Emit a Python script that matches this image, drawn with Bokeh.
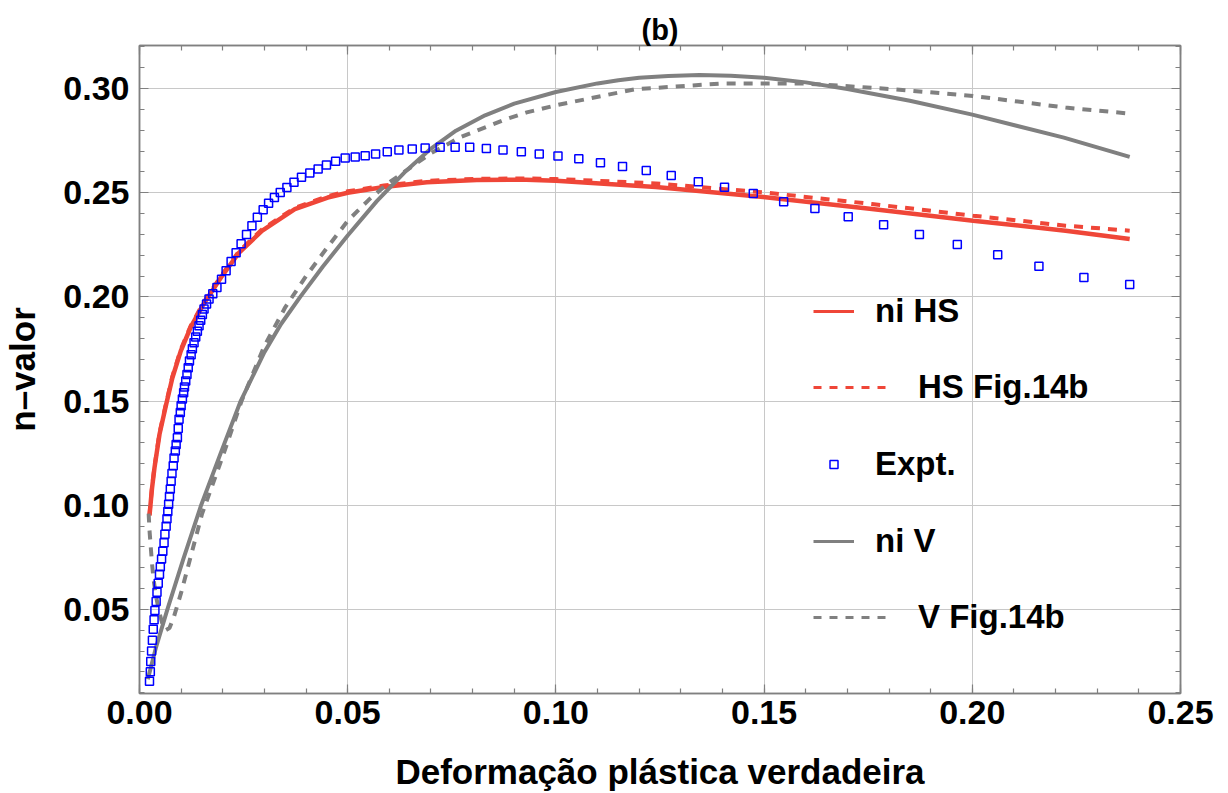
from bokeh.plotting import figure
from bokeh.models import (Range1d, LinearAxis, SingleIntervalTicker, PrintfTickFormatter,
                          CustomJSTickFormatter, Legend, LegendItem, Grid)
from bokeh.embed import file_html
from bokeh.resources import INLINE

NAN = float("nan")

# ---------------- data ----------------
expt_eps = [0.0024, 0.0026, 0.0027, 0.0029, 0.0031, 0.0033, 0.0035, 0.0037, 0.0040, 0.0042,
            0.0045, 0.0048, 0.0050, 0.0053, 0.0056, 0.0059, 0.0061, 0.0064, 0.0066, 0.0068,
            0.0070, 0.0072, 0.0074, 0.0076, 0.0078, 0.0081, 0.0083, 0.0086, 0.0088, 0.0091,
            0.0093, 0.0095, 0.0098, 0.0100, 0.0103, 0.0106, 0.0108, 0.0111, 0.0114, 0.0117,
            0.0120, 0.0124, 0.0127, 0.0131, 0.0135, 0.0139, 0.0143, 0.0147, 0.0151, 0.0155,
            0.0161, 0.0167, 0.0176, 0.0186, 0.0197, 0.0208, 0.0220, 0.0232, 0.0244, 0.0257,
            0.0270, 0.0283, 0.0297, 0.0310, 0.0324, 0.0338, 0.0354, 0.0371, 0.0389, 0.0409,
            0.0429, 0.0449, 0.0471, 0.0494, 0.0518, 0.0542, 0.0567, 0.0595, 0.0623, 0.0655,
            0.0686, 0.0722, 0.0758, 0.0793, 0.0833, 0.0873, 0.0917, 0.0960, 0.1005, 0.1055,
            0.1107, 0.1160, 0.1217, 0.1277, 0.1342, 0.1405, 0.1474, 0.1547, 0.1622, 0.1702,
            0.1787, 0.1873, 0.1964, 0.2061, 0.2160, 0.2268, 0.2378]
expt_n = [0.0155, 0.0200, 0.0250, 0.0300, 0.0352, 0.0404, 0.0450, 0.0495, 0.0538, 0.0582,
          0.0625, 0.0668, 0.0705, 0.0742, 0.0779, 0.0820, 0.0860, 0.0899, 0.0935, 0.0970,
          0.1005, 0.1042, 0.1078, 0.1115, 0.1152, 0.1190, 0.1227, 0.1260, 0.1292, 0.1324,
          0.1368, 0.1413, 0.1445, 0.1478, 0.1510, 0.1540, 0.1568, 0.1596, 0.1628, 0.1660,
          0.1692, 0.1722, 0.1751, 0.1780, 0.1808, 0.1835, 0.1861, 0.1888, 0.1915, 0.1942,
          0.1966, 0.1990, 0.2015, 0.2045, 0.2085, 0.2125, 0.2170, 0.2212, 0.2255, 0.2300,
          0.2342, 0.2382, 0.2418, 0.2450, 0.2477, 0.2501, 0.2525, 0.2550, 0.2574, 0.2595,
          0.2614, 0.2633, 0.2651, 0.2667, 0.2672, 0.2678, 0.2686, 0.2697, 0.2705, 0.2710,
          0.2715, 0.2718, 0.2719, 0.2718, 0.2712, 0.2705, 0.2697, 0.2686, 0.2677, 0.2663,
          0.2644, 0.2626, 0.2607, 0.2583, 0.2553, 0.2527, 0.2497, 0.2457, 0.2424, 0.2385,
          0.2346, 0.2300, 0.2252, 0.2202, 0.2147, 0.2093, 0.2060]

hs_eps = [0.0024, 0.0030, 0.0036, 0.0048, 0.0064, 0.0079, 0.0099, 0.0123, 0.0155, 0.0198,
          0.0238, 0.0294, 0.0373, 0.0452, 0.0500, 0.0587, 0.0690, 0.0810, 0.0929, 0.1000,
          0.1240, 0.1498, 0.1759, 0.2002, 0.2224, 0.2378]
hs_n = [0.0950, 0.1080, 0.1180, 0.1340, 0.1484, 0.1612, 0.1740, 0.1855, 0.1970, 0.2100,
        0.2210, 0.2317, 0.2421, 0.2477, 0.2500, 0.2528, 0.2550, 0.2561, 0.2563, 0.2558,
        0.2528, 0.2480, 0.2422, 0.2366, 0.2318, 0.2278]

hs14_eps = hs_eps
hs14_n = [0.0955, 0.1086, 0.1186, 0.1347, 0.1491, 0.1619, 0.1747, 0.1862, 0.1977, 0.2107,
          0.2217, 0.2324, 0.2428, 0.2484, 0.2507, 0.2535, 0.2557, 0.2567, 0.2569, 0.2566,
          0.2545, 0.2502, 0.2446, 0.2390, 0.2342, 0.2318]

v_eps = [0.0020, 0.0040, 0.0067, 0.0105, 0.0148, 0.0195, 0.0243, 0.0300, 0.0340, 0.0386,
         0.0440, 0.0500, 0.0570, 0.0640, 0.0700, 0.0760, 0.0830, 0.0900, 0.1000, 0.1100,
         0.1150, 0.1200, 0.1270, 0.1345, 0.1420, 0.1500, 0.1600, 0.1700, 0.1850, 0.2000,
         0.2220, 0.2378]
v_n = [0.0165, 0.0320, 0.0500, 0.0740, 0.1000, 0.1250, 0.1500, 0.1735, 0.1870, 0.2000,
       0.2145, 0.2295, 0.2460, 0.2605, 0.2712, 0.2798, 0.2872, 0.2928, 0.2984, 0.3025,
       0.3040, 0.3052, 0.3061, 0.3065, 0.3062, 0.3052, 0.3030, 0.2998, 0.2942, 0.2875,
       0.2765, 0.2672]

v14_eps = [0.0022, 0.0024, 0.0027, 0.0030, 0.0034, 0.0040, 0.0047, 0.0055, 0.0063, 0.0072,
           0.0082, 0.0100, 0.0150, 0.0200, 0.0245, 0.0300, 0.0350, 0.0400, 0.0450, 0.0500,
           0.0550, 0.0600, 0.0650, 0.0700, 0.0770, 0.0880, 0.0930, 0.1000, 0.1190, 0.1396,
           0.1604, 0.1810, 0.2002, 0.2224, 0.2378]
v14_n = [0.0960, 0.0880, 0.0800, 0.0720, 0.0640, 0.0560, 0.0490, 0.0430, 0.0400, 0.0410,
         0.0460, 0.0580, 0.0957, 0.1235, 0.1500, 0.1765, 0.1950, 0.2100, 0.2235, 0.2365,
         0.2465, 0.2550, 0.2620, 0.2690, 0.2766, 0.2853, 0.2886, 0.2920, 0.2997, 0.3024,
         0.3024, 0.2997, 0.2965, 0.2909, 0.2880]

x_ticks_interval = 0.05
y_ticks_interval = 0.05

RED = "#ef4638"
GRAY = "#808080"
BLUE = "#0000ff"
FONT = "Liberation Sans"

p = figure(width=1228, height=793, output_backend="svg", toolbar_location=None,
           x_range=Range1d(0, 0.25), y_range=Range1d(0.0096, 0.3207),
           x_axis_type=None, y_axis_type=None,
           min_border_left=130, min_border_right=48, min_border_top=45, min_border_bottom=99)
p.outline_line_color = GRAY
p.outline_line_width = 1.5
p.background_fill_color = "white"
p.border_fill_color = "white"

p.title.text = "(b)"
p.title.align = "center"
p.title.text_font = FONT
p.title.text_font_style = "bold"
p.title.text_font_size = "29px"
p.title.text_color = "black"
p.title.standoff = 0
p.title.offset = 0

def make_ticker(iv):
    return SingleIntervalTicker(interval=iv, num_minor_ticks=5)

def style_axis(ax, labels=True):
    ax.axis_line_color = GRAY
    ax.axis_line_width = 1.5
    ax.major_tick_line_color = GRAY
    ax.minor_tick_line_color = GRAY
    ax.major_tick_in = 9
    ax.major_tick_out = 0
    ax.minor_tick_in = 5
    ax.minor_tick_out = 0
    ax.major_tick_line_width = 1.2
    ax.minor_tick_line_width = 1.2
    if labels:
        ax.major_label_text_font = FONT
        ax.major_label_text_font_style = "bold"
        ax.major_label_text_font_size = "34px"
        ax.major_label_text_color = "black"
        ax.axis_label_text_font = FONT
        ax.axis_label_text_font_style = "bold"
        ax.axis_label_text_font_size = "35px"
        ax.axis_label_text_color = "black"
    else:
        ax.formatter = CustomJSTickFormatter(code="return '';")
        ax.major_label_text_font_size = "10px"
        ax.major_label_standoff = 0

xb = LinearAxis(ticker=make_ticker(x_ticks_interval), formatter=PrintfTickFormatter(format="%.2f"),
                axis_label="Deformação plástica verdadeira")
style_axis(xb)
xb.major_label_standoff = 7
xb.axis_label_standoff = 25
p.add_layout(xb, "below")

yl = LinearAxis(ticker=make_ticker(y_ticks_interval), formatter=PrintfTickFormatter(format="%.2f"),
                axis_label="n–valor")
style_axis(yl)
yl.major_label_standoff = 10
yl.axis_label_standoff = 18
p.add_layout(yl, "left")

xt = LinearAxis(ticker=make_ticker(x_ticks_interval))
style_axis(xt, labels=False)
p.add_layout(xt, "above")
yr = LinearAxis(ticker=make_ticker(y_ticks_interval))
style_axis(yr, labels=False)
p.add_layout(yr, "right")

p.add_layout(Grid(dimension=0, ticker=make_ticker(x_ticks_interval), grid_line_color="#c8c8c8", grid_line_width=1))
p.add_layout(Grid(dimension=1, ticker=make_ticker(y_ticks_interval), grid_line_color="#c8c8c8", grid_line_width=1))

p.line(hs_eps, hs_n, line_color=RED, line_width=4.5)
p.line(hs14_eps, hs14_n, line_color=RED, line_width=4, line_dash="9 8")
p.line(v_eps, v_n, line_color=GRAY, line_width=4)
p.line(v14_eps, v14_n, line_color=GRAY, line_width=4, line_dash="9 8")
p.scatter(expt_eps, expt_n, marker="square", size=8, fill_color=None, line_color=BLUE, line_width=1.5)

# legend proxies (NaN data so nothing shows in the frame; thinner strokes like the reference legend)
lg_hs = p.line([NAN], [NAN], line_color=RED, line_width=3)
lg_hs14 = p.line([NAN], [NAN], line_color=RED, line_width=3, line_dash="8 8")
lg_ex = p.scatter([NAN], [NAN], marker="square", size=8, fill_color=None, line_color=BLUE, line_width=1.5)
lg_v = p.line([NAN], [NAN], line_color=GRAY, line_width=3)
lg_v14 = p.line([NAN], [NAN], line_color=GRAY, line_width=3, line_dash="8 8")

def add_leg(r, label, loc, gw, standoff, gh=30):
    leg = Legend(items=[LegendItem(label=label, renderers=[r])], location=loc,
                 glyph_width=gw, glyph_height=gh, label_height=30, label_standoff=standoff,
                 padding=0, margin=0, spacing=0, border_line_color=None,
                 background_fill_alpha=0, label_text_font=FONT, label_text_font_style="bold",
                 label_text_font_size="33px", label_text_color="black")
    p.add_layout(leg)

add_leg(lg_hs, "ni HS", (674, 363), 41, 21)
add_leg(lg_hs14, "HS Fig.14b", (674, 287), 80, 25)
add_leg(lg_ex, "Expt.", (674, 210), 41, 21, gh=20)
add_leg(lg_v, "ni V", (674, 133), 41, 21)
add_leg(lg_v14, "V Fig.14b", (674, 57), 80, 25)

open("out.html", "w").write(file_html(p, INLINE))
